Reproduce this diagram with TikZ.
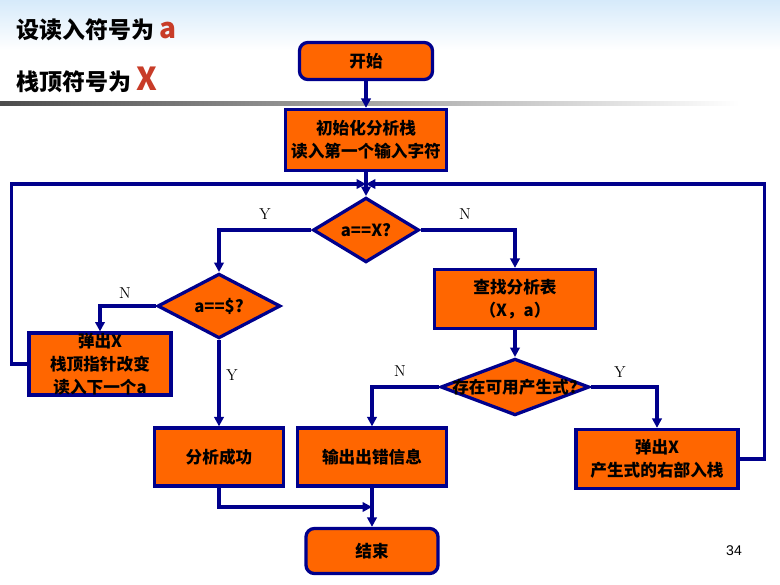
\documentclass[tikz,border=0pt]{standalone}
\usepackage{fontspec}
\usetikzlibrary{arrows.meta, positioning, shapes.geometric}
\newfontfamily\cjk{Noto Sans CJK SC}
\newfontfamily\numfont{Liberation Sans}
\definecolor{flowblue}{RGB}{0,0,140}
\definecolor{floworange}{RGB}{255,102,0}
\definecolor{titlered}{RGB}{200,60,40}
\definecolor{skyblue}{RGB}{214,234,250}

\begin{document}
\begin{tikzpicture}[x=0.03cm, y=-0.03cm,
  box/.style={draw=flowblue, line width=2.8pt, fill=floworange, align=center,
              inner sep=0pt, font=\cjk\bfseries\fontsize{14.2}{19.6}\selectfont},
  term/.style={box, rounded corners=0.25cm},
  test/.style={box, diamond},
  flow/.style={flowblue, line width=2.7pt, -{Triangle[length=8pt, width=8pt]}},
  yn/.style={font=\fontsize{13.5}{16}\selectfont},
  headline/.style={anchor=west, inner sep=0pt, font=\cjk\bfseries\fontsize{19.6}{24}\selectfont}]
  \useasboundingbox (0,0) rectangle (780,584);
  % slide background
  \shade[top color=skyblue, bottom color=white] (0,0) rectangle (780,50);
  \shade[left color=black!70, right color=white] (0,101) rectangle (740,105);
  \node[headline] (title1) at (16,30) {设读入符号为 {\color{titlered}\fontsize{24}{24}\selectfont a}};
  \node[headline] (title2) at (16,80) {栈顶符号为 {\color{titlered}\fontsize{27}{27}\selectfont X}};
  \node[font=\numfont\fontsize{12}{14}\selectfont] (pageno) at (734,551) {34};

  % flow chart
  \node[term, minimum width=3.99cm, minimum height=1.11cm] (start) at (366,61) {开始};
  \node[box, minimum width=4.83cm, minimum height=1.83cm] (init) at (366,140) {初始化分析栈\\读入第一个输入字符};
  \node[test, minimum width=3.18cm, minimum height=1.94cm] (dX) at (366,230) {\makebox[0pt]{a==X?}};
  \node[test, minimum width=3.69cm, minimum height=1.94cm] (dS) at (219,306) {\makebox[0pt]{a==\$?}};
  \node[box, minimum width=4.26cm, minimum height=1.80cm] (pop) at (100,364) {弹出X\\栈顶指针改变\\读入下一个a};
  \node[box, minimum width=3.87cm, minimum height=1.74cm] (succ) at (219,457) {分析成功};
  \node[box, minimum width=4.47cm, minimum height=1.74cm] (err) at (372,457) {输出出错信息};
  \node[box, minimum width=4.83cm, minimum height=1.77cm] (look) at (515,299) {查找分析表\\（X，a）};
  \node[test, minimum width=4.46cm, minimum height=1.70cm] (dP) at (515,387) {\makebox[0pt]{存在可用产生式?}};
  \node[box, minimum width=4.86cm, minimum height=1.77cm] (push) at (657,459) {弹出X\\产生式的右部入栈};
  \node[term, minimum width=3.96cm, minimum height=1.35cm] (end) at (372,551) {结束};
  \coordinate (merge) at (366,184);
  \coordinate (join) at (372,507);

  \draw[flow] (start) -- (init);
  \draw[flow] (init) -- (dX);
  \draw[flow] (pop.west) -- ++(-16,0) |- (merge);
  \draw[flow] (push.east) -- ++(25,0) |- (merge);
  \draw[flow] (dX.west) -| (dS.north);
  \draw[flow] (dX.east) -| (look.north);
  \draw[flow] (dS.west) -| (pop.north);
  \draw[flow] (dS.south) -- (succ.north);
  \draw[flow] (look) -- (dP);
  \draw[flow] (dP.west) -| (err.north);
  \draw[flow] (dP.east) -| (push.north);
  \draw[flow] (succ.south) |- (join);
  \draw[flow] (err) -- (end);

  \node[yn] (yX) at (265,214) {Y};
  \node[yn] (nX) at (465,214) {N};
  \node[yn] (nS) at (125,293) {N};
  \node[yn] (yS) at (232,375) {Y};
  \node[yn] (nP) at (400,371) {N};
  \node[yn] (yP) at (620,372) {Y};
\end{tikzpicture}
\end{document}
